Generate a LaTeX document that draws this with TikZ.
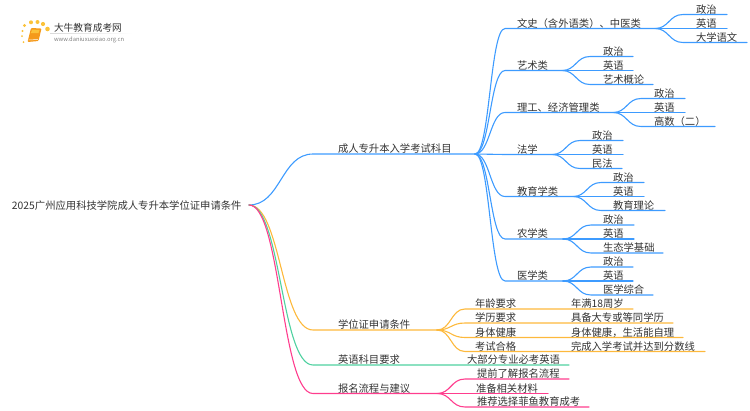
\documentclass[tikz,border=0pt]{standalone}
\usepackage{fontspec}
\setmainfont{Noto Sans CJK SC}
\usetikzlibrary{calc}
\definecolor{cblue}{HTML}{3D9BFF}
\definecolor{corange}{HTML}{FDB93C}
\definecolor{cgreen}{HTML}{4FD1A0}
\definecolor{cpink}{HTML}{FF3D8E}
\definecolor{ctext}{HTML}{333333}
\definecolor{cdot}{HTML}{FBC23A}
\definecolor{cbook}{HTML}{F59A1B}
\tikzset{
  lab/.style={anchor=base west,inner sep=0pt,outer sep=0pt,text=ctext,font=\fontsize{10.33pt}{12pt}\selectfont},
  wire/.style={line width=1.1pt,line cap=round,line join=round},
  scurve/.style={to path={let \p1=(\tikztostart),\p2=(\tikztotarget) in
    .. controls ({0.5*\x1+0.5*\x2},\y1) and ({0.5*\x1+0.5*\x2},\y2) .. (\tikztotarget)}}
}
% name, parent, x start, x end, y, x text, colour, text
\newcommand\rowline[8]{%
  \coordinate (#1s) at (#3,#5);
  \coordinate (#1e) at (#4,#5);
  \node[lab] (#1) at (#6,#5-1.5) {#8};
  \draw[wire,#7] (#2) to[scurve] (#1s) -- (#1e);
}
\begin{document}
\begin{tikzpicture}[x=1pt,y=-1pt]
\useasboundingbox (0,0) rectangle (750,410);
% logo
\fill[cdot] (24.5,25.5) circle (1.6) (31,22.3) circle (2) (37.5,22) circle (2) (43,24) circle (2.1) (47.5,29) circle (2.3)
  (22.5,31) circle (1.2) (22,36) circle (1) (23.5,42) circle (1);
\fill[cbook,rounded corners=1pt] (31,28) -- (41.5,28.5) -- (38.5,41) -- (27.5,42) -- cycle;
\fill[cdot] (32,29.5) -- (39.5,30) -- (38.5,33) -- (31,33) -- cycle;
\draw[white,line width=0.5pt] (28.5,40) -- (38,39.5);
\shade[left color=gray!30,right color=white] (50,33) rectangle (133,33.5);
\node[lab,font=\fontsize{9.7pt}{11pt}\selectfont] (logo) at (54,31.5) {大牛教育成考网};
\node[lab,font=\fontsize{5.8pt}{7pt}\selectfont,text=gray] (url) at (54,41) {www.daniuxuexiao.org.cn};
% root
\node[lab] (root) at (12,209) {2025广州应用科技学院成人专升本学位证申请条件};
\coordinate (r) at (249,205);
% main blue branch
\rowline{a}{r}{313}{475}{154}{338}{cblue}{成人专升本入学考试科目}
% second level
\rowline{w}{ae}{505}{655}{28.5}{517}{cblue}{文史（含外语类）、中医类}
\rowline{w1}{we}{683}{727}{14.5}{696}{cblue}{政治}
\rowline{w2}{we}{683}{727}{28.5}{696}{cblue}{英语}
\rowline{w3}{we}{683}{747}{42.5}{696}{cblue}{大学语文}
\rowline{y}{ae}{505}{562}{70.5}{517}{cblue}{艺术类}
\rowline{y1}{ye}{590}{633}{56.5}{603}{cblue}{政治}
\rowline{y2}{ye}{590}{633}{70.5}{603}{cblue}{英语}
\rowline{y3}{ye}{590}{653}{84.5}{603}{cblue}{艺术概论}
\rowline{l}{ae}{505}{613}{112.5}{517}{cblue}{理工、经济管理类}
\rowline{l1}{le}{641}{685}{98.5}{654}{cblue}{政治}
\rowline{l2}{le}{641}{685}{112.5}{654}{cblue}{英语}
\rowline{l3}{le}{641}{715}{126.5}{654}{cblue}{高数（二）}
\rowline{f}{ae}{505}{552}{154.5}{517}{cblue}{法学}
\rowline{f1}{fe}{580}{623}{140.5}{592}{cblue}{政治}
\rowline{f2}{fe}{580}{623}{154.5}{592}{cblue}{英语}
\rowline{f3}{fe}{580}{622}{168.5}{592}{cblue}{民法}
\rowline{e}{ae}{505}{573}{196.5}{517}{cblue}{教育学类}
\rowline{e1}{ee}{601}{644}{182.5}{613}{cblue}{政治}
\rowline{e2}{ee}{601}{644}{196.5}{613}{cblue}{英语}
\rowline{e3}{ee}{601}{665}{210.5}{613}{cblue}{教育理论}
\rowline{n}{ae}{505}{563}{239}{517}{cblue}{农学类}
\rowline{n1}{ne}{591}{634}{225}{603}{cblue}{政治}
\rowline{n2}{ne}{591}{634}{239}{603}{cblue}{英语}
\rowline{n3}{ne}{591}{663}{253}{603}{cblue}{生态学基础}
\rowline{m}{ae}{505}{563}{281}{517}{cblue}{医学类}
\rowline{m1}{me}{591}{633}{267}{603}{cblue}{政治}
\rowline{m2}{me}{591}{633}{281}{603}{cblue}{英语}
\rowline{m3}{me}{591}{653}{295}{603}{cblue}{医学综合}
% orange
\rowline{b}{r}{313}{437}{330}{338}{corange}{学位证申请条件}
\rowline{b1}{be}{465}{633}{309}{475}{corange}{年龄要求}
\node[lab] (b1t) at (571,307.5) {年满18周岁};
\rowline{b2}{be}{465}{673}{323}{475}{corange}{学历要求}
\node[lab] (b2t) at (571,321.5) {具备大专或等同学历};
\rowline{b3}{be}{465}{683}{337.5}{475}{corange}{身体健康}
\node[lab] (b3t) at (571,336) {身体健康，生活能自理};
\rowline{b4}{be}{465}{705}{351.5}{475}{corange}{考试合格}
\node[lab] (b4t) at (571,350) {完成入学考试并达到分数线};
% green
\rowline{g}{r}{313}{569}{365}{338}{cgreen}{英语科目要求}
\node[lab] (gt) at (467,363.5) {大部分专业必考英语};
% pink
\rowline{p}{r}{313}{437}{393.5}{338}{cpink}{报名流程与建议}
\rowline{p1}{pe}{465}{569}{379}{477}{cpink}{提前了解报名流程}
\rowline{p2}{pe}{465}{548}{393.5}{476}{cpink}{准备相关材料}
\rowline{p3}{pe}{465}{589}{407}{477}{cpink}{推荐选择菲鱼教育成考}
\end{tikzpicture}
\end{document}
